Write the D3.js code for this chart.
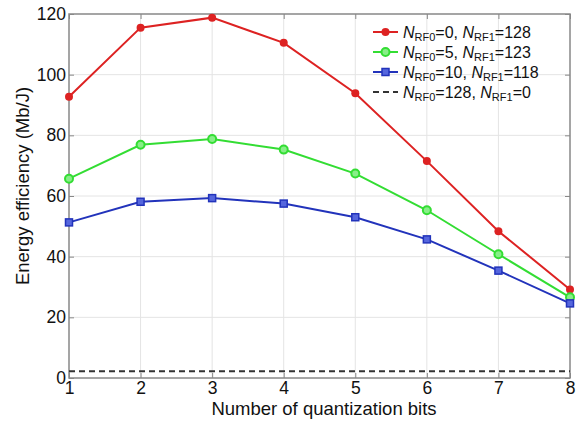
<!DOCTYPE html>
<html>
<head>
<meta charset="utf-8">
<script src="https://cdn.jsdelivr.net/npm/d3@7"></script>
<style>
body { margin: 0; background: #fff; }
svg text { font-family: "Liberation Sans", Arial, sans-serif; fill: #111; }
.grid line { stroke: #e4e4e4; stroke-width: 1; }
.tick-lbl { font-size: 17.5px; }
.axis-title { font-size: 18.5px; }
.leg { font-size: 16px; }
</style>
</head>
<body>
<svg width="579" height="423"></svg>
<script>
// data
var bits = [1, 2, 3, 4, 5, 6, 7, 8];
var xTicks = [1, 2, 3, 4, 5, 6, 7, 8];
var yTicks = [0, 20, 40, 60, 80, 100, 120];

var rf0_0 = [92.7, 115.5, 118.8, 110.5, 93.9, 71.5, 48.4, 29.2];
var rf0_5 = [65.7, 76.9, 78.8, 75.3, 67.4, 55.3, 40.8, 26.6];
var rf0_10 = [51.3, 58.1, 59.3, 57.5, 53.0, 45.7, 35.4, 24.6];
var rf0_128 = [2.2, 2.2, 2.2, 2.2, 2.2, 2.2, 2.2, 2.2];

var seriesNames = [
	["0", "128"],
	["5", "123"],
	["10", "118"],
	["128", "0"]
];

var svg = d3.select("svg");
var plotLeft = 69, plotRight = 570, plotTop = 14, plotBottom = 378;

var x = d3.scaleLinear().domain([1, 8]).range([plotLeft, plotRight]);
var y = d3.scaleLinear().domain([0, 120]).range([plotBottom, plotTop]);

var series = [
	{ vals: rf0_0, color: "#dd2222", marker: "dot" },
	{ vals: rf0_5, color: "#33dd33", marker: "ring" },
	{ vals: rf0_10, color: "#2233bb", marker: "square" },
	{ vals: rf0_128, color: "#333333", marker: "none", dash: "6,4" }
];

// grid
var grid = svg.append("g").attr("class", "grid");
grid.selectAll(".gx").data(xTicks.slice(1, -1)).enter().append("line")
	.attr("x1", function(d) { return x(d); }).attr("x2", function(d) { return x(d); })
	.attr("y1", plotTop).attr("y2", plotBottom);
grid.selectAll(".gy").data(yTicks.slice(1, -1)).enter().append("line")
	.attr("y1", function(d) { return y(d); }).attr("y2", function(d) { return y(d); })
	.attr("x1", plotLeft).attr("x2", plotRight);

// axes (ticks inside, mirrored on top/right)
var fmt = d3.format("d");
var axB = svg.append("g").attr("transform", "translate(0," + plotBottom + ")")
	.call(d3.axisBottom(x).tickValues(xTicks).tickFormat(fmt).tickSizeInner(-5).tickSizeOuter(0));
var axT = svg.append("g").attr("transform", "translate(0," + plotTop + ")")
	.call(d3.axisTop(x).tickValues(xTicks).tickSizeInner(-5).tickSizeOuter(0).tickFormat(""));
var axL = svg.append("g").attr("transform", "translate(" + plotLeft + ",0)")
	.call(d3.axisLeft(y).tickValues(yTicks).tickFormat(fmt).tickSizeInner(-5).tickSizeOuter(0));
var axR = svg.append("g").attr("transform", "translate(" + plotRight + ",0)")
	.call(d3.axisRight(y).tickValues(yTicks).tickSizeInner(-5).tickSizeOuter(0).tickFormat(""));

[axB, axT, axL, axR].forEach(function(a) {
	a.select(".domain").remove();
	a.selectAll(".tick line").attr("stroke", "#888");
	a.selectAll(".tick text").attr("class", "tick-lbl").attr("fill", "#111");
	a.attr("font-size", null).attr("font-family", null);
});
axB.selectAll(".tick text").attr("y", 4);
axL.selectAll(".tick text").attr("x", -3);

svg.append("rect")
	.attr("x", plotLeft).attr("y", plotTop)
	.attr("width", plotRight - plotLeft).attr("height", plotBottom - plotTop)
	.attr("fill", "none").attr("stroke", "#888").attr("stroke-width", 1.5);

// lines
var line = d3.line()
	.x(function(d, i) { return x(bits[i]); })
	.y(function(d) { return y(d); });

function drawMarker(g, type, color, cx, cy) {
	if (type == "dot") {
		g.append("circle").attr("cx", cx).attr("cy", cy).attr("r", 4).attr("fill", color);
	}
	else if (type == "ring") {
		g.append("circle").attr("cx", cx).attr("cy", cy).attr("r", 4)
			.attr("fill", "#88ee88").attr("stroke", color).attr("stroke-width", 2);
	}
	else if (type == "square") {
		g.append("rect").attr("x", cx - 3.5).attr("y", cy - 3.5).attr("width", 7).attr("height", 7)
			.attr("fill", "#5566dd").attr("stroke", color).attr("stroke-width", 1.5);
	}
}

series.forEach(function(s) {
	var g = svg.append("g");
	g.append("path")
		.attr("d", line(s.vals))
		.attr("fill", "none")
		.attr("stroke", s.color)
		.attr("stroke-width", 2)
		.attr("stroke-dasharray", s.dash || null);
	s.vals.forEach(function(v, i) {
		drawMarker(g, s.marker, s.color, x(bits[i]), y(v));
	});
});

// legend
var leg = svg.append("g").attr("transform", "translate(373,32)");
series.forEach(function(s, i) {
	var row = leg.append("g").attr("transform", "translate(0," + (i * 20) + ")");
	row.append("line").attr("x1", 0).attr("x2", 25).attr("y1", 0).attr("y2", 0)
		.attr("stroke", s.color).attr("stroke-width", 2).attr("stroke-dasharray", s.dash || null);
	drawMarker(row, s.marker, s.color, 12.5, 0);
	var t = row.append("text").attr("class", "leg").attr("x", 30).attr("y", 6);
	t.append("tspan").attr("font-style", "italic").text("N");
	t.append("tspan").attr("font-size", "11px").attr("dy", 3).text("RF0");
	t.append("tspan").attr("dy", -3).text("=" + seriesNames[i][0] + ", ");
	t.append("tspan").attr("font-style", "italic").text("N");
	t.append("tspan").attr("font-size", "11px").attr("dy", 3).text("RF1");
	t.append("tspan").attr("dy", -3).text("=" + seriesNames[i][1]);
});

// axis titles
svg.append("text").attr("class", "axis-title")
	.attr("x", 324).attr("y", 415)
	.attr("text-anchor", "middle")
	.text("Number of quantization bits");
svg.append("text").attr("class", "axis-title")
	.attr("transform", "translate(29,186) rotate(-90)")
	.attr("text-anchor", "middle")
	.text("Energy efficiency (Mb/J)");
</script>
</body>
</html>
